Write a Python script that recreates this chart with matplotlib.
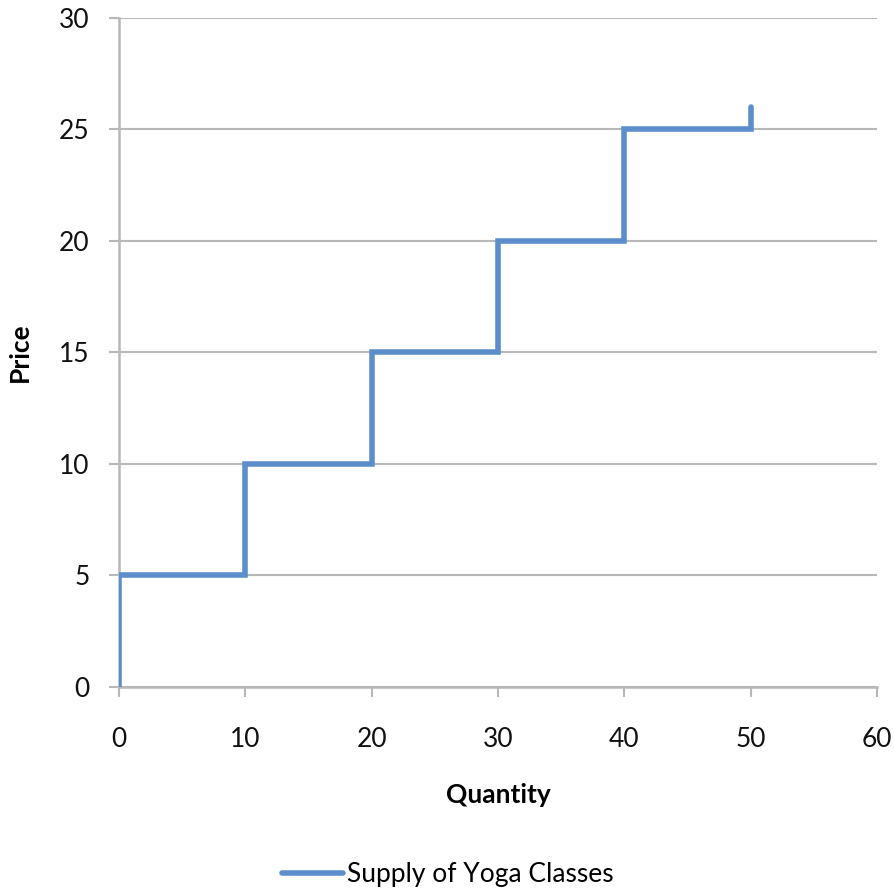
import matplotlib
matplotlib.use("Agg")
import matplotlib.pyplot as plt

# supply schedule (step function)
quantity = [0, 0, 10, 10, 20, 20, 30, 30, 40, 40, 50, 50]
price = [0, 5, 5, 10, 10, 15, 15, 20, 20, 25, 25, 26]
x_ticks = [0, 10, 20, 30, 40, 50, 60]
y_ticks = [0, 5, 10, 15, 20, 25, 30]
series_name = "Supply of Yoga Classes"

plt.rcParams['font.family'] = ['Lato', 'DejaVu Sans']

fig = plt.figure(figsize=(8.94, 8.90), dpi=100)
ax = fig.add_axes([0.1331, 0.2281, 0.8479, 0.7517])

grid_col = "#b8b8b8"
ax.plot(quantity, price, color="#5b8ecb", linewidth=4.0, solid_capstyle="round",
        solid_joinstyle="miter", label=series_name, zorder=3)

ax.set_xlim(0, 60)
ax.set_ylim(0, 30)
ax.set_xticks(x_ticks)
ax.set_yticks(y_ticks)
ax.yaxis.grid(True, color=grid_col, linewidth=1.5)
ax.set_axisbelow(True)

for side in ["top", "right"]:
    ax.spines[side].set_visible(False)
for side in ["left", "bottom"]:
    ax.spines[side].set_color(grid_col)
    ax.spines[side].set_linewidth(1.8)

ax.tick_params(axis="both", direction="out", length=7, width=1.5, color=grid_col,
               labelsize=19, labelcolor="#111111")
ax.tick_params(axis="y", pad=14)
ax.tick_params(axis="x", pad=22)

ax.set_xlabel("Quantity", fontsize=19, fontweight="bold", labelpad=22)
ax.set_ylabel("Price", fontsize=19, fontweight="bold", labelpad=20)

ax.legend(loc="center", bbox_to_anchor=(0.434, -0.281), frameon=False, fontsize=19,
          handlelength=2.3, handletextpad=0.15)

plt.savefig("out.png", dpi=100)
